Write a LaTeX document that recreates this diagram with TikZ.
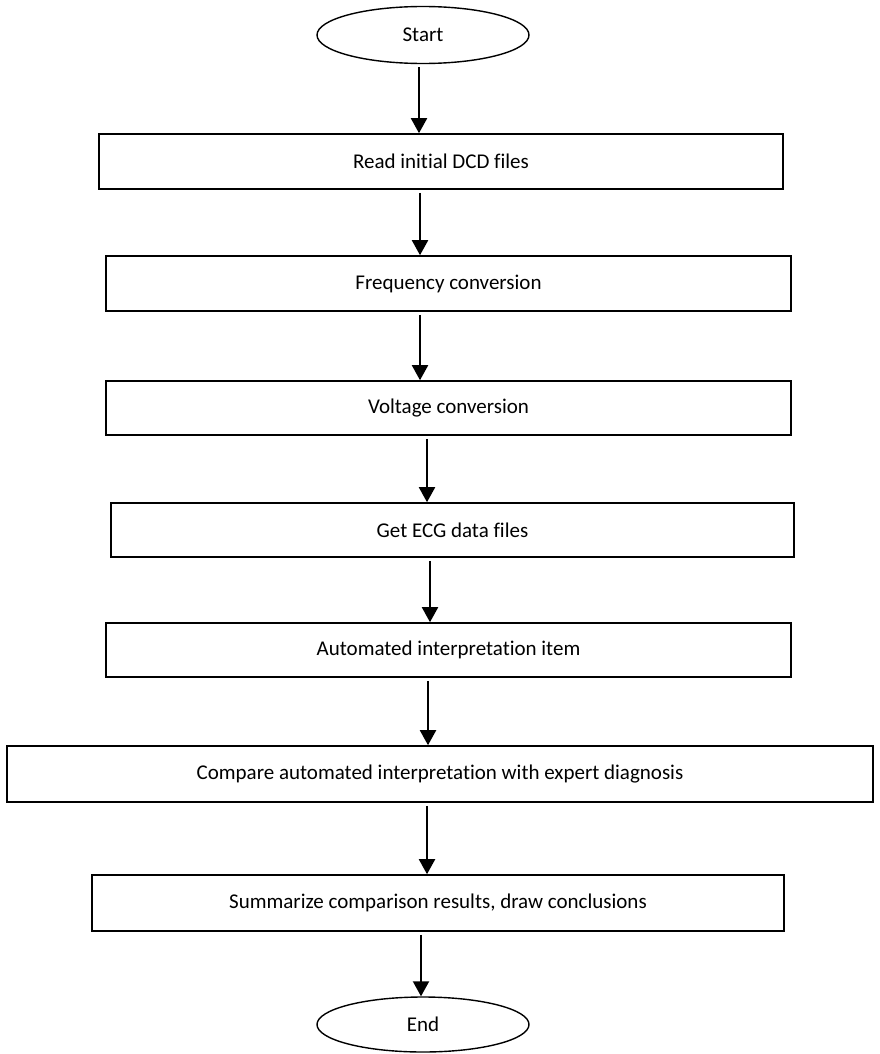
\documentclass[tikz,border=0pt]{standalone}
\usepackage{fontspec}
\setmainfont{Carlito}[Ligatures=NoCommon]
\usetikzlibrary{arrows.meta,shapes.geometric}
\tikzset{
  procbox/.style={draw=black, line width=1.6pt, rectangle, inner sep=0pt, font=\fontsize{21}{25}\selectfont},
  term/.style={draw=black, line width=1.4pt, ellipse, inner sep=0pt, font=\fontsize{21}{25}\selectfont},
  flow/.style={draw=black, line width=2pt, -{Triangle[width=16pt,length=15pt]}, shorten <=3pt}
}
\begin{document}
\begin{tikzpicture}[x=1pt,y=-1pt]
\useasboundingbox (0,0) rectangle (879,1054);
\node[term, minimum width=212pt, minimum height=57pt] (start) at (423,35) {Start};
\node[procbox, minimum width=684pt, minimum height=55pt] (b1) at (441,161.5) {Read initial DCD files};
\node[procbox, minimum width=685pt, minimum height=55pt] (b2) at (448.5,283.5) {Frequency conversion};
\node[procbox, minimum width=685pt, minimum height=54pt] (b3) at (448.5,408) {Voltage conversion};
\node[procbox, minimum width=683pt, minimum height=54pt] (b4) at (452.5,530) {Get ECG data files};
\node[procbox, minimum width=685pt, minimum height=54pt] (b5) at (448.5,650) {Automated interpretation item};
\node[procbox, minimum width=866pt, minimum height=56pt] (b6) at (440,774) {Compare automated interpretation with expert diagnosis};
\node[procbox, minimum width=692pt, minimum height=56pt] (b7) at (438,903) {Summarize comparison results, draw conclusions};
\node[term, minimum width=212pt, minimum height=55pt] (end) at (423,1024.5) {End};
\coordinate (x0) at (419,0);
\coordinate (x1) at (420,0);
\coordinate (x2) at (420,0);
\coordinate (x3) at (427,0);
\coordinate (x4) at (430,0);
\coordinate (x5) at (428,0);
\coordinate (x6) at (427,0);
\coordinate (x7) at (421,0);
\draw[flow] (start.south -| x0) -- (b1.north -| x0);
\draw[flow] (b1.south -| x1) -- (b2.north -| x1);
\draw[flow] (b2.south -| x2) -- (b3.north -| x2);
\draw[flow] (b3.south -| x3) -- (b4.north -| x3);
\draw[flow] (b4.south -| x4) -- (b5.north -| x4);
\draw[flow] (b5.south -| x5) -- (b6.north -| x5);
\draw[flow] (b6.south -| x6) -- (b7.north -| x6);
\draw[flow] (b7.south -| x7) -- (end.north -| x7);
\end{tikzpicture}
\end{document}
